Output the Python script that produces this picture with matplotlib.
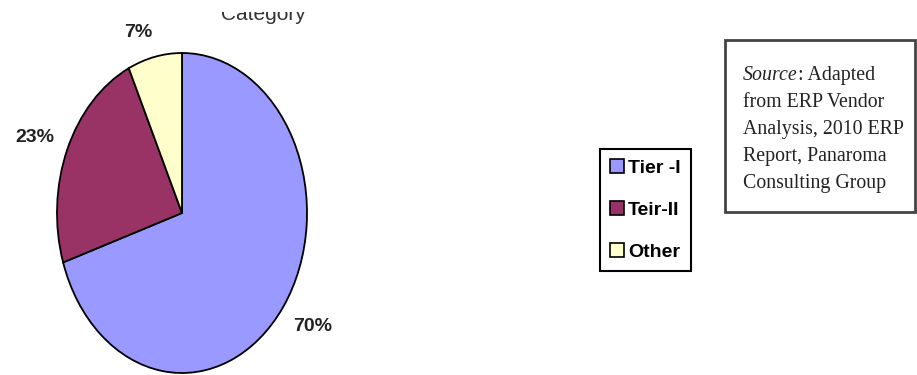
import numpy as np
import matplotlib
matplotlib.use('Agg')
import matplotlib.pyplot as plt
from matplotlib.patches import Patch, Rectangle

categories = ['Tier -I', 'Teir-II', 'Other']
shares = [70, 23, 7]
colors = ['#9999FF', '#993366', '#FFFFCC']

source_lines = ['from ERP Vendor', 'Analysis, 2010 ERP', 'Report, Panaroma', 'Consulting Group']

# label placement (radius, angle shift in degrees) relative to wedge middle
label_radius = [1.267, 1.27, 1.18]
label_shift = [1.8, 1.5, 4.8]

W, H = 917, 375
fig = plt.figure(figsize=(W / 100, H / 100), dpi=100)

# pie is stretched vertically in the original, so use an auto-aspect axes
ax = fig.add_axes([57 / W, 2 / H, 250 / W, 320 / H])
wedges, _ = ax.pie(shares, colors=colors, startangle=90, counterclock=False,
                   wedgeprops=dict(edgecolor='black', linewidth=1.3))
ax.set_aspect('auto')
ax.set_xlim(-1, 1)
ax.set_ylim(-1, 1)
ax.axis('off')

for w, s, r, d in zip(wedges, shares, label_radius, label_shift):
    th = np.deg2rad((w.theta1 + w.theta2) / 2 + d)
    ax.text(r * np.cos(th), r * np.sin(th), '{}%'.format(s), ha='center', va='center',
            fontsize=14, fontweight='bold', family='Liberation Sans', color='#222222')

# overlay axes in pixel coords for the title and the source box
ov = fig.add_axes([0, 0, 1, 1], zorder=-1)
ov.set_xlim(0, W)
ov.set_ylim(H, 0)
ov.axis('off')

# title, cut off at the top in the original scan
ov.text(263, 20, 'Category', ha='center', va='baseline',
        fontsize=15, family='Liberation Sans', color='#333333')
ov.add_patch(Rectangle((150, -5), 250, 17, facecolor='white', edgecolor='none', zorder=5))

handles = [Patch(facecolor=c, edgecolor='black', linewidth=1.2) for c in colors]
leg = fig.legend(handles, categories, loc='upper left', bbox_to_anchor=(600 / W, 1 - 149 / H),
                 frameon=True, fancybox=False, edgecolor='black', framealpha=1,
                 handlelength=0.75, handleheight=0.75, handletextpad=0.2,
                 labelspacing=1.25, borderpad=0.5, borderaxespad=0,
                 prop=dict(family='Liberation Sans', weight='bold', size=14))
leg.get_frame().set_linewidth(1.5)

# source box
ov.add_patch(Rectangle((725, 40), 190, 172, facecolor='white', edgecolor='#444444', linewidth=2))
t1 = ov.text(743, 80, 'Source', ha='left', va='baseline', fontsize=14.3,
             family='Liberation Serif', style='italic', color='#222222')
ov.annotate(': Adapted', xy=(1, 0), xycoords=t1, ha='left', va='bottom',
            fontsize=14.3, family='Liberation Serif', color='#222222')
for i, line in enumerate(source_lines):
    ov.text(743, 80 + 27 * (i + 1), line, ha='left', va='baseline', fontsize=14.3,
            family='Liberation Serif', color='#222222')

plt.savefig('out.png', dpi=100)
plt.close()
